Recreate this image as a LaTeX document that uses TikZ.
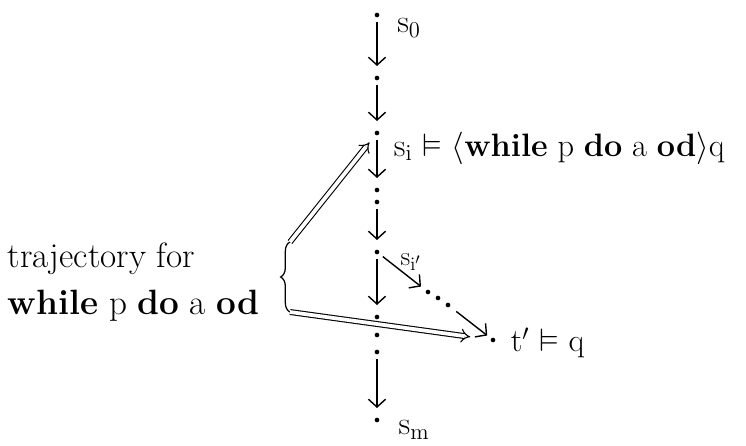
\documentclass[tikz,border=0pt]{standalone}
\usepackage{amsmath, amssymb}
\usepackage{tikz}
\usetikzlibrary{arrows.meta, decorations.pathreplacing}
\tikzstyle{state} = [circle, fill=black, inner sep=0pt, minimum size=3pt]
\tikzstyle{trans} = [-{Straight Barb[length=5pt, width=11pt]}, line width=0.9pt,
                     shorten <=3pt, shorten >=6pt]
\tikzstyle{dbl}   = [-{Implies}, double, double distance=2.4pt, line width=0.7pt]
\tikzstyle{lbl}   = [inner sep=1pt, font=\huge]
\newcommand{\kw}[1]{\textbf{#1}}

\begin{document}
\begin{tikzpicture}[x=0.0225cm, y=-0.0225cm]
  \useasboundingbox (0,0) rectangle (746,445);

  % run of states down the middle
  \node[state] (s0) at (377,15)  {};
  \node[state] (a1) at (377,78)  {};
  \node[state] (si) at (377,133) {};
  \node[state] (a2) at (377,190) {};
  \node[state] (a3) at (377,202) {};
  \node[state] (sj) at (377,252) {};
  \node[state] (a4) at (377,317) {};
  \node[state] (a5) at (377,335) {};
  \node[state] (a6) at (377,352) {};
  \node[state] (sm) at (377,420) {};

  % side run to t'
  \node[state] (b1) at (428,292) {};
  \node[state] (b2) at (438,298) {};
  \node[state] (b3) at (448,305) {};
  \node[state] (tp) at (493,340) {};

  \draw[trans] (s0) -- (a1);
  \draw[trans] (a1) -- (si);
  \draw[trans] (si) -- (a2);
  \draw[trans] (a3) -- (sj);
  \draw[trans] (sj) -- (a4);
  \draw[trans] (a6) -- (sm);
  \draw[trans, shorten >=4pt] (sj) -- (b1);
  \draw[trans, shorten <=5pt, shorten >=3pt] (b3) -- (tp);

  % labels
  \node[lbl] (ls0) at (409,28) {s$_0$};
  \node[lbl, anchor=west] (lsi) at (392,148)
    {s$_\mathrm{i}$ $\vDash$ $\langle$\kw{while} p \kw{do} a \kw{od}$\rangle$q};
  \node[lbl, font=\LARGE] (lsj) at (411,262) {s$_{\mathrm{i}'}$};
  \node[lbl, anchor=west] (ltp) at (509,343) {t$'$ $\vDash$ q};
  \node[lbl] (lsm) at (414,430) {s$_\mathrm{m}$};

  % the trajectory
  \node[lbl, font=\fontsize{22.5}{30}\selectfont, anchor=west, align=left]
    (traj) at (6,282) {trajectory for\\\kw{while} p \kw{do} a \kw{od}};
  \coordinate (bb) at (290,312);
  \coordinate (bt) at (290,242);
  \draw[line width=0.8pt, decorate, decoration={brace, amplitude=6pt}] (bb) -- (bt);
  \draw[dbl, shorten >=6pt] (bt) -- (si);
  \draw[dbl, shorten >=13pt] (bb) -- (tp);
\end{tikzpicture}
\end{document}
